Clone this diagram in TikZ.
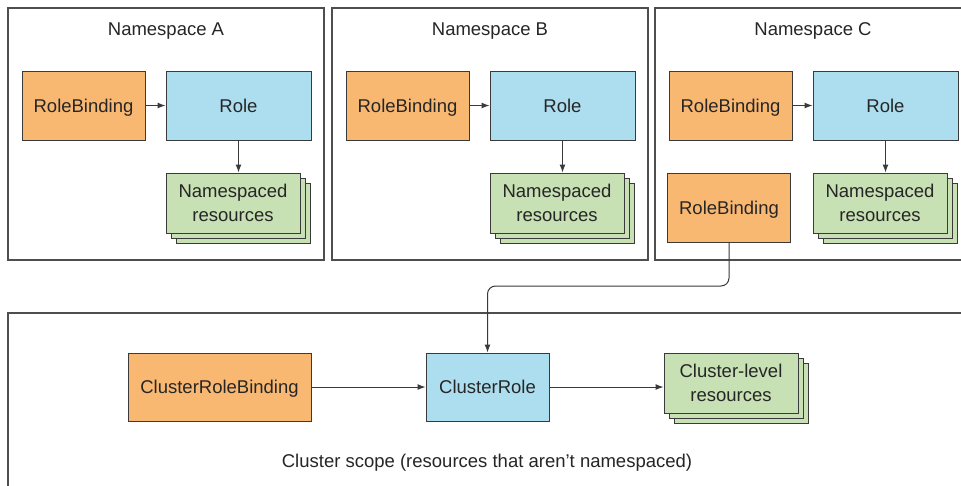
\documentclass[tikz,border=0pt]{standalone}
\usepackage{fontspec}
\setmainfont{Liberation Sans}
\usetikzlibrary{arrows.meta,shadows}
\definecolor{rbfill}{HTML}{F9B872}
\definecolor{rolefill}{HTML}{ADDEF0}
\definecolor{resfill}{HTML}{C7E0B4}
\definecolor{edge}{HTML}{3A3A3A}

\begin{document}
\begin{tikzpicture}[
    x=1pt, y=-1pt,
    font=\fontsize{18.5}{23.5}\selectfont, text=black!85,
    >={Latex[length=8pt,width=6pt]},
    box/.style={rectangle,draw=edge,line width=1pt,inner sep=0pt,align=center},
    rb/.style={box,fill=rbfill,minimum width=123pt,minimum height=69pt,
               text height=13.3pt,text depth=0pt},
    role/.style={box,fill=rolefill,minimum width=145pt,minimum height=69pt,
                 text height=13.3pt,text depth=0pt},
    res/.style={box,fill=resfill,minimum width=134pt,minimum height=60pt,
                double copy shadow={shadow xshift=5pt,shadow yshift=-5pt}},
    frame/.style={rectangle,draw=edge!90,line width=1.2pt,inner sep=0pt},
    link/.style={->,edge,line width=1pt}]

  \clip (0,0) rectangle (961,485);
  \fill[white] (0,0) rectangle (961,485);

  % namespaces
  \foreach \ns/\dx in {A/0,B/324,C/647}{
    \node[frame,minimum width=316pt,minimum height=252pt] (ns\ns) at (166+\dx,134) {};
    \node (title\ns) at (166+\dx,31) {Namespace \ns};
    \node[rb]   (rb\ns)   at (83.5+\dx,105.5) {RoleBinding};
    \node[role] (role\ns) at (238.5+\dx,105.5) {Role};
    \node[res]  (res\ns)  at (233+\dx,203) {Namespaced\\resources};
    \draw[link] (rb\ns) -- (role\ns);
    \draw[link] (role\ns) -- (role\ns |- res\ns.north);
  }
  \node[rb] (rbC2) at (729,208) {RoleBinding};

  % cluster scope
  \node[frame,minimum width=962pt,minimum height=182pt] (cluster) at (489,404) {};
  \node[rb,minimum width=183pt,minimum height=68pt] (crb) at (219.5,387) {ClusterRoleBinding};
  \node[role,minimum width=123pt,minimum height=68pt] (cr) at (487.5,387) {ClusterRole};
  \node[res] (clr) at (731,383) {Cluster-level\\resources};
  \node (scope) at (487,463) {Cluster scope (resources that aren’t namespaced)};

  \draw[link] (crb) -- (cr);
  \draw[link] (cr) -- (cr -| clr.west);
  \draw[link,rounded corners=8pt] (rbC2.south) -- ++(0,43) -| (cr.north);
\end{tikzpicture}
\end{document}
